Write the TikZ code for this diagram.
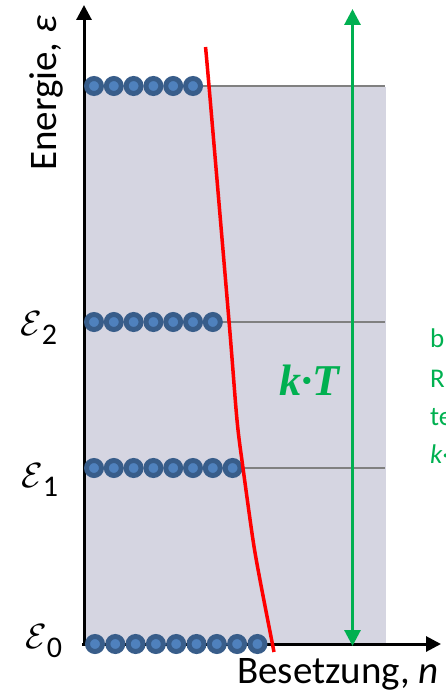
\RequirePackage{fix-cm}
\documentclass[tikz,border=0pt]{standalone}
\usepackage{fontspec}
\newfontfamily\carl{Carlito}
\newfontfamily\tserif{Liberation Serif}
\usetikzlibrary{arrows.meta}
\definecolor{bandgray}{RGB}{213,213,225}
\definecolor{levgray}{RGB}{128,128,128}
\definecolor{dotedge}{RGB}{56,93,138}
\definecolor{dotfill}{RGB}{79,129,189}
\definecolor{kgreen}{RGB}{0,176,80}
\definecolor{curvered}{RGB}{255,0,0}
\newcommand{\levlab}[1]{$\mathcal{E}$\raisebox{-9pt}{\carl\fontsize{30}{32}\selectfont #1}}
\begin{document}
\begin{tikzpicture}[x=1pt,y=-1pt,
  axisline/.style={line width=3pt,black,-{Triangle[width=15pt,length=15pt]}},
  levelline/.style={line width=2.5pt,levgray},
  particle/.style={circle,draw=dotedge,fill=dotfill,line width=5pt,minimum size=15pt,inner sep=0pt},
  lbl/.style={inner sep=0pt,font=\carl\fontsize{39}{42}\selectfont},
  elbl/.style={inner sep=0pt,anchor=base west,font=\fontsize{35}{38}\selectfont},
  gtext/.style={inner sep=0pt,anchor=base west,text=kgreen,font=\carl\fontsize{27}{30}\selectfont}]
\useasboundingbox (0,0) rectangle (446,693);
% band
\fill[bandgray] (84,87) rectangle (386,644);
% level lines
\coordinate (l3a) at (200,86);  \coordinate (l3b) at (385,86);
\coordinate (l2a) at (220,322); \coordinate (l2b) at (385,322);
\coordinate (l1a) at (240,468); \coordinate (l1b) at (385,468);
\draw[levelline] (l3a) -- (l3b);
\draw[levelline] (l2a) -- (l2b);
\draw[levelline] (l1a) -- (l1b);
% axes
\coordinate (org) at (82,644);
\coordinate (ytip) at (84,5);
\coordinate (xtip) at (441,644);
\coordinate (ybase) at (84,645.5);
\draw[axisline] (ybase) -- (ytip);
\draw[axisline] (org) -- (xtip);
% particles
\foreach \i in {0,...,5} \node[particle] (p3\i) at (94+19.8*\i,86) {};
\foreach \i in {0,...,6} \node[particle] (p2\i) at (94+19.8*\i,322) {};
\foreach \i in {0,...,7} \node[particle] (p1\i) at (94+19.8*\i,468) {};
\foreach \i in {0,...,8} \node[particle] (p0\i) at (95+20.3*\i,644) {};
% red curve
\draw[curvered,line width=3.5pt] plot[smooth,tension=0.5] coordinates
  {(205.5,47) (209,86) (229,321) (237,420) (243,468) (253,540) (260,580) (274,652)};
% green double arrow
\coordinate (gtop) at (352.5,9);
\coordinate (gbot) at (352.5,646);
\draw[kgreen,line width=3pt,{Triangle[width=16pt,length=16pt]}-{Triangle[width=16pt,length=16pt]}] (gbot) -- (gtop);
\node[inner sep=0pt,anchor=base,text=kgreen,font=\tserif\bfseries\itshape\fontsize{44}{48}\selectfont] (kT) at (309,395) {k·T};
% axis labels
\node[lbl,rotate=90,anchor=base west] (ylab) at (56,171) {Energie, {\itshape ε}};
\node[lbl,anchor=base west] (xlab) at (237,683) {Besetzung, {\itshape n}};
% level labels
\node[elbl] (e2) at (20,335) {\levlab{2}};
\node[elbl] (e1) at (21,487) {\levlab{1}};
\node[elbl] (e0) at (25,648) {\levlab{0}};
% cut-off green text
\node[gtext] (t1) at (430,347) {b};
\node[gtext] (t2) at (430,387) {R};
\node[gtext] (t3) at (430,425) {te};
\node[gtext] (t4) at (430,463) {{\itshape k}·};
\end{tikzpicture}
\end{document}
